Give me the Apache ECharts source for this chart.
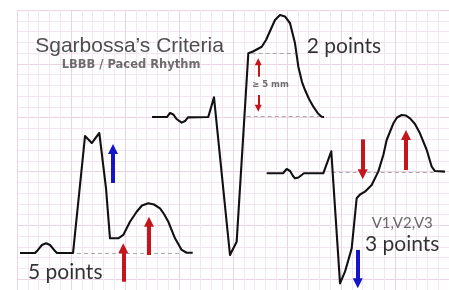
<!DOCTYPE html>
<html>
<head>
<meta charset="utf-8">
<script src="https://cdn.jsdelivr.net/npm/echarts@6/dist/echarts.min.js"></script>
<style>
html, body { margin: 0; padding: 0; background: #fff; }
#chart { width: 449px; height: 290px; }
</style>
</head>
<body>
<div id="chart"></div>
<script>
// units are mm of ECG paper (1 small box = 1 mm), y counted down from the top line

// lead with ST elevation concordant with QRS (5 points)
var complexLeft = [[0.28,22.56],[1.67,22.56],[1.94,22.28],[2.31,21.82],[2.69,21.66],[3.06,21.82],[3.43,22.28],[3.70,22.56],
    [5.19,22.56],[6.30,11.70],[6.92,12.35],[7.62,11.42],[8.24,16.53],[8.61,21.20],[9.38,21.20],[9.84,20.89],[10.46,19.66],
    [11.08,18.73],[11.57,18.15],[12.16,17.95],[12.69,18.06],[13.24,18.41],[13.61,18.94],[14.01,19.66],[14.63,21.20],
    [15.25,22.28],[15.71,22.54],[16.27,22.54]];
// discordant ST elevation >= 5 mm (2 points)
var complexMid = [[12.50,9.94],[13.89,9.94],[14.17,9.56],[14.47,9.70],[14.77,10.12],[15.25,10.46],[15.56,10.31],[15.83,9.97],
    [17.71,9.94],[18.24,8.11],[19.72,22.75],[20.34,21.51],[21.42,4.02],[21.85,3.85],[22.66,3.41],[23.06,2.79],[23.43,1.95],
    [23.89,0.93],[24.35,0.46],[24.81,0.60],[25.28,1.23],[25.74,3.09],[26.05,5.26],[26.39,6.69],[26.67,7.43],[27.04,8.26],
    [27.44,8.98],[27.87,9.61],[28.21,9.91],[28.43,9.94]];
// ST depression in V1-V3 (3 points)
var complexRight = [[23.12,15.16],[24.63,15.16],[24.97,14.76],[25.28,14.95],[25.56,15.41],[25.74,15.63],[26.06,15.55],
    [26.36,15.32],[26.57,15.16],[28.36,15.16],[29.10,13.12],[29.91,25.38],[30.37,24.30],[30.99,22.13],[31.45,17.48],
    [31.76,17.13],[32.22,16.87],[32.84,16.25],[33.45,15.01],[33.92,13.46],[34.23,12.07],[34.85,10.52],[35.19,9.98],
    [35.62,9.75],[36.02,9.80],[36.39,10.06],[36.85,10.58],[37.31,11.45],[37.94,13.00],[38.40,14.55],[38.70,14.95],[39.63,15.01]];

// dashed reference levels
var refLines = [
    [[5.56,22.54],[15.28,22.54]],
    [[21.73,3.99],[25.74,3.99]],
    [[21.27,9.91],[28.21,9.91]],
    [[29.14,15.09],[38.70,15.09]]
];

// arrows: [x, from y, tip y]
var redArrows = [[9.84,25.23,21.66],[12.22,22.75,19.19],[36.02,14.86,11.14],[32.01,12.01,15.72]];
var blueArrows = [[8.89,16.06,12.44],[31.55,22.28,25.84]];
var smallArrows = [[22.34,6.19,4.48],[22.34,7.89,9.44]];

var noteTexts = ['Sgarbossa\u2019s Criteria', 'LBBB / Paced Rhythm', '2 points', '\u2265 5 mm', '5 points', 'V1,V2,V3', '3 points'];

function arrowData(list, back) {
    return list.map(function (a) {
        var dir = a[2] > a[1] ? 1 : -1;
        return { coords: [[a[0], a[1]], [a[0], a[2] - dir * back]] };
    });
}

function ecg(data) {
    return {
        type: 'line', data: data, symbol: 'none', silent: true, z: 5,
        lineStyle: { color: '#111', width: 2.1, join: 'round' }
    };
}

function arrows(list, color, width, head) {
    return {
        type: 'lines', coordinateSystem: 'cartesian2d', silent: true, z: 4,
        data: arrowData(list, head[1] / 2 / 10.77),
        symbol: ['none', 'triangle'], symbolSize: head,
        lineStyle: { color: color, width: width, opacity: 1, curveness: 0 }
    };
}

var noteStyle = [
    { at: [10.42, 3.34], position: 'inside', fontFamily: 'Liberation Sans', fontSize: 21, color: '#222' },
    { at: [10.56, 5.11], position: 'inside', fontFamily: 'DejaVu Sans', fontWeight: 'bold', fontSize: 11.5, color: '#4a4a4a' },
    { at: [26.82, 3.34], position: 'right', fontFamily: 'Lato', fontSize: 21, color: '#000' },
    { at: [23.47, 6.96], position: 'inside', fontFamily: 'DejaVu Sans', fontWeight: 'bold', fontSize: 8.5, color: '#4a4a4a' },
    { at: [1.02, 24.33], position: 'right', fontFamily: 'Lato', fontSize: 21, color: '#000' },
    { at: [32.84, 19.78], position: 'right', fontFamily: 'Lato', fontSize: 15, color: '#444' },
    { at: [32.22, 21.77], position: 'right', fontFamily: 'Lato', fontSize: 21, color: '#000' }
];

var notes = noteTexts.map(function (t, i) {
    var s = noteStyle[i];
    return {
        value: s.at,
        label: {
            show: true, formatter: t, position: s.position, distance: 0,
            fontFamily: s.fontFamily, fontSize: s.fontSize, fontWeight: s.fontWeight || 'normal', color: s.color
        }
    };
});

var paperAxis = {
    type: 'value', min: 0, interval: 5,
    axisLine: { show: false }, axisTick: { show: false }, axisLabel: { show: false },
    splitLine: { show: true, lineStyle: { color: '#ecd3e4', width: 1 } },
    minorTick: { show: false, splitNumber: 5 },
    minorSplitLine: { show: true, lineStyle: { color: '#f4e6f0', width: 1 } }
};

var chart = echarts.init(document.getElementById('chart'));
chart.setOption({
    animation: false,
    backgroundColor: '#fff',
    grid: { left: 17, top: 10, width: 432, height: 323.1, outerBoundsMode: 'none', containLabel: false },
    xAxis: Object.assign({}, paperAxis, { max: 40 }),
    yAxis: Object.assign({}, paperAxis, { max: 30, inverse: true }),
    series: [
        {
            type: 'lines', coordinateSystem: 'cartesian2d', silent: true, z: 3,
            data: refLines.map(function (c) { return { coords: c }; }),
            lineStyle: { color: '#aaa', width: 1.2, type: [4, 3], opacity: 1 }
        },
        ecg(complexLeft),
        ecg(complexMid),
        ecg(complexRight),
        arrows(redArrows, '#c3161c', 4, [10, 10]),
        arrows(blueArrows, '#1414c8', 4, [10, 10]),
        arrows(smallArrows, '#c3161c', 2, [6, 7]),
        {
            type: 'scatter', data: notes, symbolSize: 0, silent: true, z: 6
        }
    ]
});
</script>
</body>
</html>
